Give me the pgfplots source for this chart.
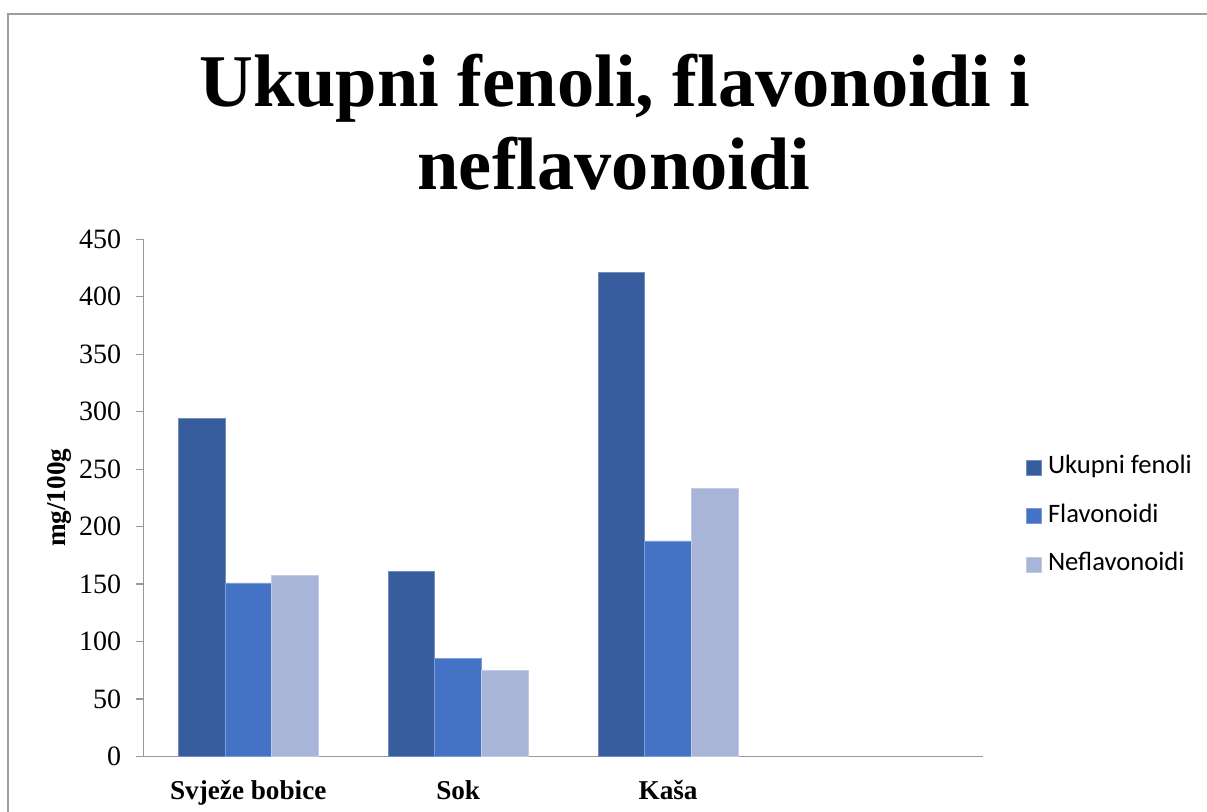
\documentclass[border=0pt]{standalone}
\usepackage{pgfplots}
\pgfplotsset{compat=1.18}
\usepackage{fontspec}
\setmainfont{Liberation Serif}
\newfontfamily\carlito{Carlito}
\definecolor{c1}{HTML}{385D9F}
\definecolor{c2}{HTML}{4472C4}
\definecolor{c3}{HTML}{A8B5D8}
\definecolor{axgray}{HTML}{999999}
\begin{document}
\begin{tikzpicture}
\useasboundingbox (0,0) rectangle (603.5pt,406pt);
\draw[color=gray!75, line width=1pt] (4.15pt,-2pt) -- (4.15pt,399pt) -- (606pt,399pt);
\node[anchor=base, inner sep=0pt, font=\fontsize{37.2}{42}\selectfont\bfseries] at (307.5pt,352.5pt) {Ukupni fenoli, flavonoidi i};
\node[anchor=base, inner sep=0pt, font=\fontsize{37.2}{42}\selectfont\bfseries] at (307pt,311pt) {neflavonoidi};
\begin{axis}[
  at={(71.65pt,27.75pt)}, anchor=south west,
  scale only axis, width=419.85pt, height=258.65pt,
  xmin=-0.5, xmax=3.5, ymin=0, ymax=450,
  ytick={0,50,...,450},
  xtick={0,1,2}, xticklabels={Svježe bobice,Sok,Kaša},
  axis lines*=left,
  axis line style={draw=axgray, line width=0.65pt},
  tick align=outside,
  major tick length=3.5pt,
  ytick style={draw=axgray, line width=0.6pt},
  xtick style={draw=none},
  /pgf/number format/assume math mode=true,
  yticklabel style={font=\fontsize{14}{16}\selectfont, xshift=-4pt},
  xticklabel style={font=\fontsize{13.6}{16}\selectfont\bfseries, yshift=-5pt},
  ylabel={mg/100g},
  ylabel style={font=\fontsize{13.6}{15}\selectfont\bfseries, at={(rel axis cs:-0.1,0.5)}, anchor=center},
  ybar, bar width=0.2222,
  legend style={draw=none, fill=none, at={(rel axis cs:1.051,0.465)}, anchor=west,
    inner sep=0pt, font=\carlito\fontsize{13.3}{15}\selectfont, row sep=9.75pt,
    nodes={inner sep=1pt, text height=9.5pt, text depth=3pt},
    /tikz/every odd column/.append style={column sep=2pt}},
  legend cell align=left,
  legend image code/.code={\fill[#1] (0pt,-3.75pt) rectangle (7.5pt,3.75pt);},
]
\addplot[fill=c1, draw=c1!70!white, line width=0.4pt, bar shift=-0.2222] coordinates {(0,294) (1,161) (2,421)};
\addplot[fill=c2, draw=c2!70!white, line width=0.4pt, bar shift=0] coordinates {(0,151) (1,85.5) (2,187.5)};
\addplot[fill=c3, draw=c3!70!white, line width=0.4pt, bar shift=0.2222] coordinates {(0,157.5) (1,75) (2,233.5)};
\legend{Ukupni fenoli,Flavonoidi,Neflavonoidi}
\end{axis}
\end{tikzpicture}
\end{document}
